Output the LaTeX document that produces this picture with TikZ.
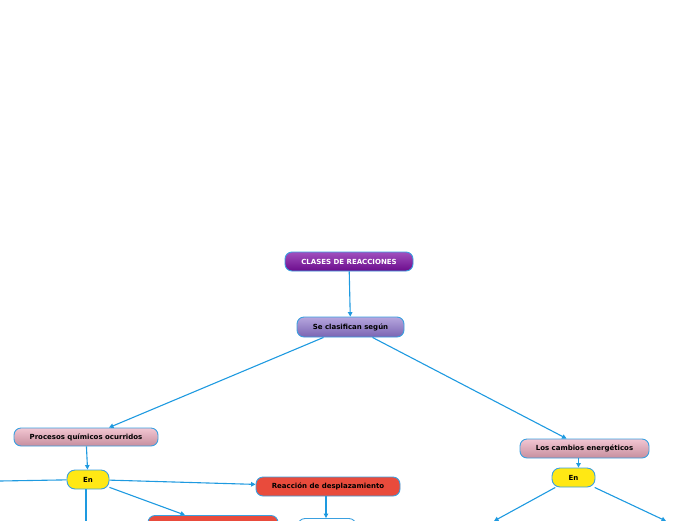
\documentclass[tikz,border=0pt]{standalone}
\usepackage{fontspec}
\setmainfont{DejaVu Sans}
\usepackage{tikz}
\usetikzlibrary{arrows.meta}
\definecolor{azul}{RGB}{30,154,224}
\definecolor{borde}{RGB}{58,160,224}
\definecolor{moradoA}{RGB}{160,80,190}
\definecolor{moradoB}{RGB}{108,12,140}
\definecolor{lilaA}{RGB}{182,166,222}
\definecolor{lilaB}{RGB}{122,100,178}
\definecolor{rosaA}{RGB}{242,198,210}
\definecolor{rosaB}{RGB}{198,142,158}
\definecolor{amarillo}{RGB}{255,232,20}
\definecolor{rojo}{RGB}{233,75,60}
\tikzset{
  caja/.style={draw=borde,line width=0.9pt,rounded corners=7pt,inner sep=0pt,
    font=\fontsize{7}{8}\selectfont\bfseries},
  titulo/.style={caja,top color=moradoA,bottom color=moradoB,text=white},
  lila/.style={caja,top color=lilaA,bottom color=lilaB},
  rosa/.style={caja,top color=rosaA,bottom color=rosaB},
  enlace/.style={caja,fill=amarillo,rounded corners=8pt,minimum width=42pt,minimum height=19pt},
  tipo/.style={caja,fill=rojo},
  flecha/.style={draw=azul,line width=1.1pt,-{Triangle[length=4.5pt,width=4.5pt]}},
  trazo/.style={draw=azul,line width=1.1pt}
}
\begin{document}
\begin{tikzpicture}[x=1pt,y=-1pt]
\useasboundingbox (0,0) rectangle (696,520);
\clip (0,0) rectangle (696,520);
% conceptos
\node[titulo,minimum width=128pt,minimum height=19pt] (clases) at (349,261.5) {CLASES DE REACCIONES};
\node[lila,minimum width=107pt,minimum height=20pt] (segun) at (350.5,327) {Se clasifican según};
\node[rosa,minimum width=144pt,minimum height=18pt] (procesos) at (86,437) {Procesos químicos ocurridos};
\node[enlace] (en1) at (88,479.5) {En};
\node[tipo,minimum width=144pt,minimum height=19pt] (desplaz) at (328,486.5) {Reacción de desplazamiento};
\node[tipo,minimum width=130pt,minimum height=19pt] (rojo2) at (213,525) {};
\node[caja,fill=white,minimum width=58pt,minimum height=19pt] (caja3) at (327,528) {};
\node[rosa,minimum width=129pt,minimum height=19pt] (cambios) at (584.5,448.5) {Los cambios energéticos};
\node[enlace,minimum width=43pt] (en2) at (573.5,477.5) {En};
% extremos libres
\coordinate (izq) at (0,481);
\coordinate (abajo) at (86,521);
\coordinate (abajoA) at (494,521);
\coordinate (abajoB) at (666,521);
% conectores
\draw[flecha] (clases) -- (segun);
\draw[flecha] ([xshift=-27pt]segun.south) -- ([xshift=23pt]procesos.north);
\draw[flecha] ([xshift=22pt]segun.south) -- ([xshift=-18pt]cambios.north);
\draw[flecha] (procesos) -- (en1);
\draw[trazo] (en1) -- (izq);
\draw[trazo] ([xshift=-2pt]en1.south) -- (abajo);
\draw[flecha] (en1) -- (desplaz);
\draw[flecha] (en1) -- ([xshift=-28pt]rojo2.north);
\draw[flecha] ([xshift=-2pt]desplaz.south) -- ([xshift=-1pt]caja3.north);
\draw[flecha] ([xshift=-6pt]cambios.south) -- ([xshift=5pt]en2.north);
\draw[flecha] (en2) -- (abajoA);
\draw[flecha] (en2) -- (abajoB);
\end{tikzpicture}
\end{document}
